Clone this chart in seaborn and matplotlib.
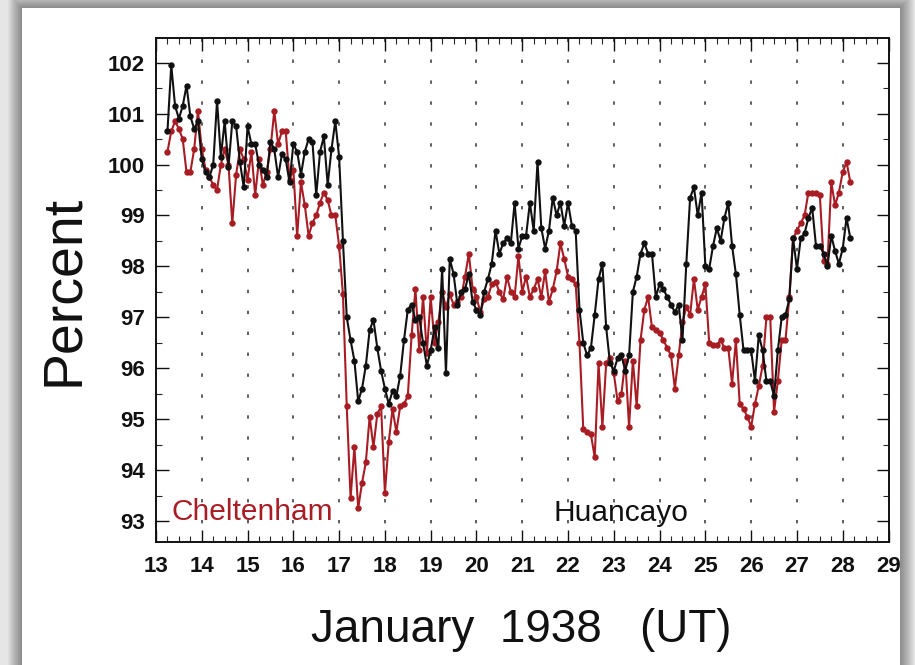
import numpy as np
import pandas as pd
import matplotlib
matplotlib.use("Agg")
import matplotlib.pyplot as plt
from matplotlib.patches import Rectangle
from matplotlib.ticker import MultipleLocator
import seaborn as sns

# Two-hourly cosmic-ray intensity (percent), January 1938 (UT days)
start_day = 13.25
step_hours = 2

huancayo = [
    100.65, 101.95, 101.15, 100.9, 101.15, 101.55, 100.95, 100.7, 100.85, 100.1,
    99.85, 99.75, 100.0, 101.25, 100.15, 100.85, 99.95, 100.85, 100.75, 100.05,
    99.55, 100.75, 100.4, 100.4, 100.0, 99.9, 99.75, 100.45, 100.3, 99.75,
    100.2, 100.1, 99.65, 100.4, 100.25, 99.8, 100.25, 100.5, 100.45, 99.4,
    100.25, 100.55, 99.6, 100.3, 100.85, 100.15, 98.5, 97.0, 96.55, 96.15,
    95.35, 95.6, 96.05, 96.75, 96.95, 96.4, 95.95, 95.6, 95.3, 95.55,
    95.45, 95.85, 96.55, 97.15, 97.25, 96.95, 97.0, 96.5, 96.05, 96.35,
    96.8, 96.4, 97.95, 95.9, 98.15, 97.85, 97.25, 97.5, 97.55, 97.85,
    97.3, 97.15, 97.05, 97.5, 97.75, 98.05, 98.7, 98.25, 98.45, 98.55,
    98.45, 99.25, 98.35, 98.6, 98.6, 99.25, 98.7, 100.05, 98.75, 98.35,
    98.7, 99.35, 99.0, 99.25, 98.8, 99.25, 98.8, 98.7, 97.15, 96.5,
    96.25, 96.4, 97.05, 97.75, 98.05, 96.8, 96.1, 95.95, 96.2, 96.25,
    95.95, 96.25, 97.5, 97.8, 98.25, 98.45, 98.25, 98.25, 97.4, 97.65,
    97.55, 97.4, 97.25, 97.1, 97.25, 96.55, 98.05, 99.35, 99.55, 99.0,
    99.45, 98.0, 97.95, 98.4, 98.75, 98.5, 98.95, 99.25, 98.4, 97.85,
    97.05, 96.35, 96.35, 96.35, 95.75, 96.65, 96.35, 95.75, 95.75, 95.45,
    96.35, 97.0, 97.05, 97.35, 98.55, 97.95, 98.55, 98.65, 98.95, 99.15,
    98.4, 98.4, 98.25, 98.0, 98.6, 98.3, 98.05, 98.35, 98.95, 98.55,
]

cheltenham = [
    100.25, 100.65, 100.85, 100.7, 100.5, 99.85, 99.85, 100.3, 101.05, 100.3,
    99.9, 99.75, 99.6, 99.5, 100.0, 100.3, 100.0, 98.85, 99.8, 100.3,
    100.1, 99.7, 100.25, 99.4, 100.1, 99.6, 99.85, 100.3, 101.05, 100.4,
    100.65, 100.65, 99.7, 99.9, 98.6, 99.65, 99.2, 98.6, 98.85, 99.0,
    99.25, 99.45, 99.3, 99.0, 99.0, 98.4, 97.45, 95.25, 93.45, 94.45,
    93.25, 93.75, 94.15, 95.05, 94.45, 95.1, 95.25, 93.55, 94.55, 95.2,
    94.75, 95.25, 95.3, 95.45, 96.65, 97.55, 96.35, 97.4, 96.3, 97.4,
    96.5, 96.9, 97.5, 97.2, 97.45, 97.25, 97.3, 97.4, 97.8, 98.25,
    97.55, 97.4, 97.1, 97.35, 97.4, 97.65, 97.7, 97.5, 97.35, 97.8,
    97.5, 97.4, 98.2, 97.5, 97.8, 97.4, 97.55, 97.75, 97.4, 97.9,
    97.3, 97.55, 97.9, 98.45, 98.15, 97.8, 97.75, 97.65, 96.5, 94.8,
    94.75, 94.7, 94.25, 96.1, 94.85, 96.1, 96.2, 95.9, 95.35, 95.5,
    96.15, 94.85, 96.15, 95.25, 96.55, 97.15, 97.4, 96.8, 96.75, 96.7,
    96.55, 96.4, 96.25, 95.6, 96.25, 96.9, 97.2, 97.05, 97.75, 97.15,
    97.4, 97.65, 96.5, 96.45, 96.45, 96.55, 96.4, 96.4, 95.7, 96.55,
    95.3, 95.2, 95.05, 94.85, 95.3, 95.65, 96.05, 97.0, 97.0, 95.15,
    95.75, 96.55, 96.55, 97.4, 98.55, 98.7, 98.85, 99.0, 99.45, 99.45,
    99.45, 99.4, 98.1, 98.05, 99.65, 99.2, 99.45, 99.85, 100.05, 99.65,
]

day_ticks = list(range(13, 30))
percent_ticks = list(range(93, 103))
station_colors = {"Cheltenham": "#a81c24", "Huancayo": "#111111"}

n = len(huancayo)
days = start_day + np.arange(n) * step_hours / 24.0
df = pd.DataFrame({
    "day": np.concatenate([days, days]),
    "percent": np.concatenate([cheltenham, huancayo]),
    "station": ["Cheltenham"] * n + ["Huancayo"] * n,
})

sns.set_style("ticks")
plt.rcParams["font.family"] = ["Liberation Sans", "DejaVu Sans"]

W, H = 915, 665
fig = plt.figure(figsize=(W / 100, H / 100), dpi=100)
fig.patch.set_facecolor("#e6e6e6")

# card with a soft drop shadow
card = (22 / W, 0.0, (900 - 22) / W, 1 - 8 / H)
for i in range(14, 0, -1):
    dx, dy = i / W, i / H
    fig.patches.append(Rectangle((card[0] - dx, card[1] - dy), card[2] + 2 * dx,
                                 card[3] + 2 * dy, transform=fig.transFigure,
                                 facecolor="black", edgecolor="none",
                                 alpha=0.03, zorder=-20))
fig.patches.append(Rectangle(card[:2], card[2], card[3], transform=fig.transFigure,
                             facecolor="white", edgecolor="none", zorder=-10))

ax = fig.add_axes([156 / W, 1 - 542.4 / H, (888.5 - 156) / W, (542.4 - 38.2) / H])
ax.set_facecolor("white")

for station in ["Cheltenham", "Huancayo"]:
    sns.lineplot(data=df[df["station"] == station], x="day", y="percent",
                 color=station_colors[station], marker="o", markersize=4.6,
                 markeredgewidth=0, linewidth=1.5, sort=False, estimator=None,
                 ax=ax, legend=False)

ax.set_xlim(13, 29)
ax.set_ylim(92.58, 102.48)
ax.set_xticks(day_ticks)
ax.set_yticks(percent_ticks)
ax.xaxis.set_minor_locator(MultipleLocator(0.25))
ax.yaxis.set_minor_locator(MultipleLocator(0.5))
ax.tick_params(which="major", direction="in", length=9, width=1.0, top=True,
               right=True, labelsize=16, pad=8, colors="#111111")
ax.tick_params(which="minor", direction="in", length=4.5, width=0.8, top=True,
               right=True)
for lab in ax.get_xticklabels() + ax.get_yticklabels():
    lab.set_fontweight("bold")
ax.tick_params(axis="x", pad=10)
for sp in ax.spines.values():
    sp.set_linewidth(1.4)
    sp.set_color("#111111")

ax.xaxis.grid(True, which="major", color="#333333", linewidth=1.1,
              linestyle=(1.5, (2.2, 11.5)))
ax.yaxis.grid(False)
ax.set_axisbelow(True)
ax.set_xlabel("")
ax.set_ylabel("")

ax.text(13.33, 93.02, "Cheltenham", color=station_colors["Cheltenham"],
        fontsize=21.5, ha="left", va="baseline")
ax.text(21.68, 93.0, "Huancayo", color=station_colors["Huancayo"],
        fontsize=21.5, ha="left", va="baseline")

fig.text(521.5 / W, 1 - 641.7 / H, "January  1938   (UT)", fontsize=33,
         ha="center", va="baseline", color="#111111")
fig.text(78 / W, 1 - 290 / H, "Percent", fontsize=40, rotation=90,
         rotation_mode="anchor", ha="center", va="baseline", color="#111111")

fig.savefig("out.png", dpi=100, facecolor=fig.get_facecolor())
